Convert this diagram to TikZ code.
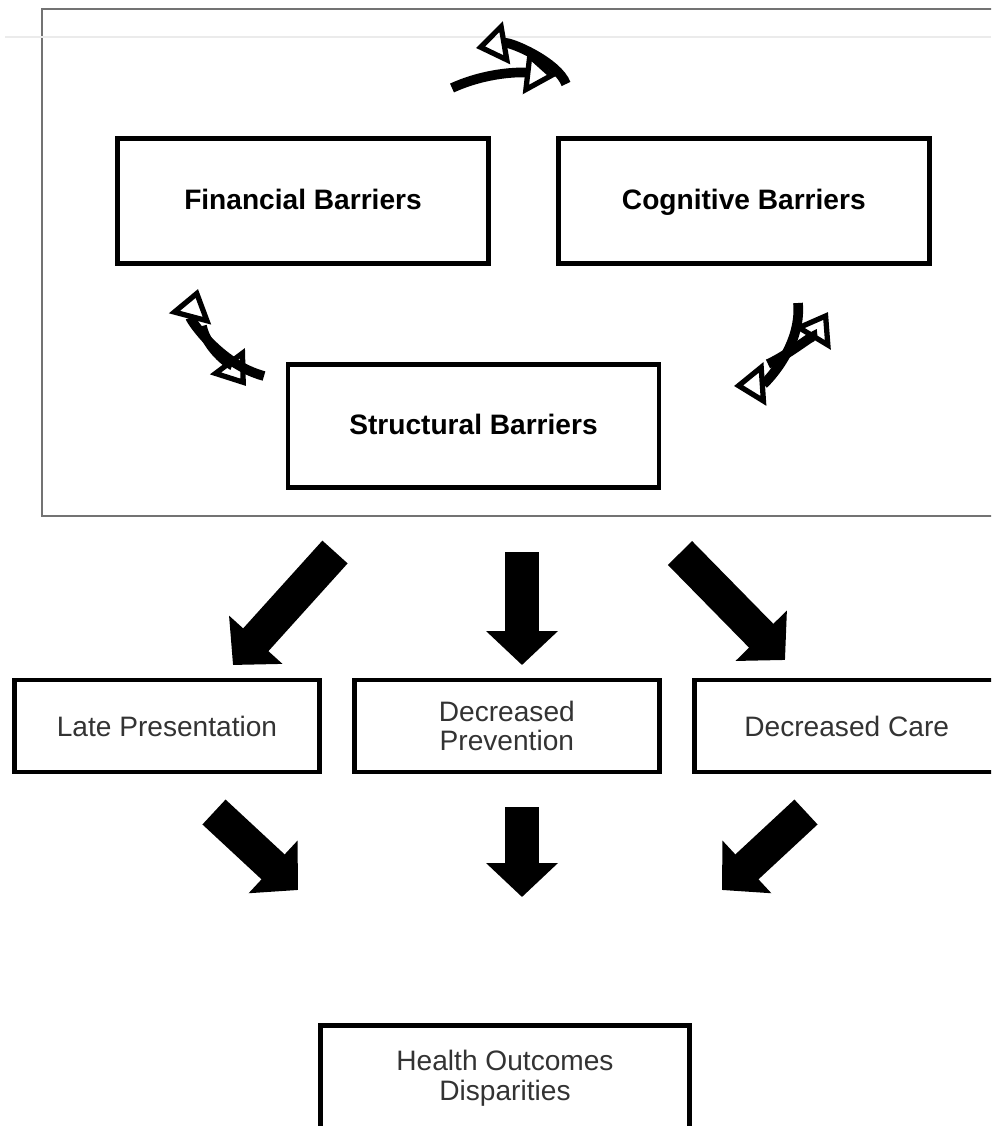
\documentclass[tikz,border=0pt]{standalone}
\usepackage{fontspec}
\setmainfont{Liberation Sans}
\usetikzlibrary{arrows.meta,positioning}

\begin{document}
\begin{tikzpicture}[x=0.02cm,y=-0.02cm,
    barrier/.style={draw,line width=2.8pt,minimum width=7.42cm,minimum height=2.5cm,
      text height=1em,text depth=0pt,font=\fontsize{16}{19}\selectfont\bfseries},
    effect/.style={draw,line width=2.8pt,minimum width=6.1cm,minimum height=1.84cm,
      align=center,text=black!80,font=\fontsize{16}{17}\selectfont},
    big arrow/.style={line width=0.68cm,-{Triangle[width=1.4cm,length=0.68cm]}},
    cyc arrow/.style={line width=5.5pt,
      -{Triangle[open,line width=3pt,width=0.85cm,length=0.62cm]}}]

\useasboundingbox (0,0) rectangle (991,1126);
\clip (0,0) rectangle (991,1126);

% frame round the barriers
\draw[black!55,line width=1.2pt] (42,9) rectangle (1010,516);
\draw[black!8,line width=0.6pt] (5,37) -- (991,37);

\node[barrier] (fin) at (303,201) {Financial Barriers};
\node[barrier] (cog) [right=1.3cm of fin] {Cognitive Barriers};
\node[barrier,minimum height=2.46cm] (str) at (473.5,426) {Structural Barriers};

\node[effect] (late) at (167,726) {Late Presentation};
\node[effect] (prev) [right=0.6cm of late] {Decreased\\Prevention};
\node[effect] (care) [right=0.6cm of prev] {Decreased Care};
\node[effect,minimum width=7.38cm,minimum height=2.1cm] (hod) at (505,1078)
  {Health Outcomes\\Disparities};

% ends of the arrows
\coordinate (a1) at (335,552);  \coordinate (a1t) at (233,665);
\coordinate (a2) at (522,552);  \coordinate (a2t) at (522,665);
\coordinate (a3) at (680,553);  \coordinate (a3t) at (785,660);
\coordinate (b1) at (214,812);  \coordinate (b1t) at (298,890);
\coordinate (b2) at (522,807);  \coordinate (b2t) at (522,897);
\coordinate (b3) at (806,812);  \coordinate (b3t) at (722,890);

\path[big arrow]
(a1) edge (a1t)
(a2) edge (a2t)
(a3) edge (a3t)
(b1) edge (b1t)
(b2) edge (b2t)
(b3) edge (b3t)
;

% cycle arrows between the barriers
\coordinate (t1) at (452,88);  \coordinate (t1t) at (556,76);
\coordinate (t2) at (566,84);  \coordinate (t2t) at (476,48);
\coordinate (l1) at (264,376); \coordinate (l1t) at (198,289);
\coordinate (l2) at (202,326); \coordinate (l2t) at (246,386);
\coordinate (r1) at (798,303); \coordinate (r1t) at (734,386);
\coordinate (r2) at (768,364); \coordinate (r2t) at (828,312);

\draw[cyc arrow] (t1) .. controls +(35,-16) and +(-35,-4) .. (t1t);
\draw[cyc arrow] (t2) .. controls +(-8,-22) and +(35,-6) .. (t2t);
\draw[cyc arrow] (l1) .. controls +(-45,-12) and +(-8,30) .. (l1t);
\draw[cyc arrow] (l2) .. controls +(4,22) and +(-15,-20) .. (l2t);
\draw[cyc arrow] (r1) .. controls +(4,45) and +(30,-2) .. (r1t);
\draw[cyc arrow] (r2) .. controls +(22,-10) and +(-12,20) .. (r2t);

\end{tikzpicture}
\end{document}
